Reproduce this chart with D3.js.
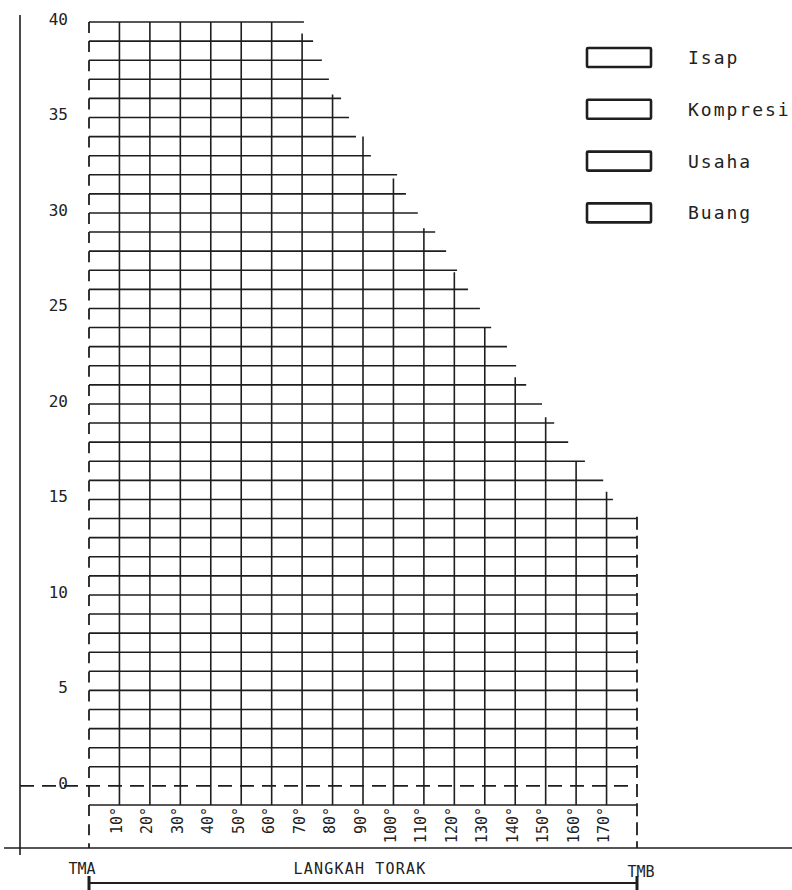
<!DOCTYPE html>
<html>
<head>
<meta charset="utf-8">
<script src="https://cdn.jsdelivr.net/npm/d3@7"></script>
<style>
  body { margin: 0; background: #fff; }
  text { font-family: "DejaVu Sans Mono", monospace; fill: #222; }
</style>
</head>
<body>
<div id="container"></div>
<script>
// pressure values on the left, crank angle along the bottom
var tickValues = [0, 5, 10, 15, 20, 25, 30, 35, 40];
var rowLevels = [40, 39, 38, 37, 36, 35, 34, 33, 32, 31, 30, 29, 28, 27, 26, 25, 24, 23, 22, 21,
                 20, 19, 18, 17, 16, 15, 14, 13, 12, 11, 10, 9, 8, 7, 6, 5, 4, 3, 2, 1, -1];
// where each row stops on the right (degrees), top rows are cut short
var rowEnds = [70.6, 73.6, 76.5, 78.8, 82.8, 85.4, 87.7, 92.6, 101.2, 104.1, 108, 113.7, 117.3, 120.9,
               124.5, 128.4, 132.1, 137.3, 140.3, 143.6, 148.8, 152.8, 157.4, 162.9, 168.9, 172.1,
               180, 180, 180, 180, 180, 180, 180, 180, 180, 180, 180, 180, 180, 180, 180];
var degrees = [10, 20, 30, 40, 50, 60, 70, 80, 90, 100, 110, 120, 130, 140, 150, 160, 170];
var colTops = [40, 40, 40, 40, 40, 40, 39.4, 36.2, 34.0, 31.8, 29.2, 26.9, 24.0, 21.4, 19.3, 17.0, 15.4];
var tmbTop = 14.1;
var legendNames = ['Isap', 'Kompresi', 'Usaha', 'Buang'];

var ink = '#1e1e1e';

var svg = d3.select('#container')
    .append('svg')
    .attr('width', 792)
    .attr('height', 890);

var x = d3.scaleLinear().domain([0, 180]).range([89, 637]);
var y = d3.scaleLinear().domain([-1, 40]).range([805, 22]);

// outer frame lines
svg.append('line')
    .attr('x1', 20).attr('x2', 20)
    .attr('y1', 15).attr('y2', 855)
    .attr('stroke', ink).attr('stroke-width', 1.6);

svg.append('line')
    .attr('x1', 4).attr('x2', 792)
    .attr('y1', 848).attr('y2', 848)
    .attr('stroke', ink).attr('stroke-width', 1.6);

// horizontal rows
svg.selectAll('.row')
    .data(rowLevels)
    .enter().append('line')
    .attr('class', 'row')
    .attr('x1', x(0))
    .attr('x2', function (d, i) { return x(rowEnds[i]); })
    .attr('y1', function (d) { return y(d); })
    .attr('y2', function (d) { return y(d); })
    .attr('stroke', ink)
    .attr('stroke-width', 1.6);

// dashed zero line
svg.append('line')
    .attr('x1', 20).attr('x2', x(180))
    .attr('y1', y(0)).attr('y2', y(0))
    .attr('stroke', ink)
    .attr('stroke-width', 1.6)
    .style('stroke-dasharray', '14,8');

// vertical columns
svg.selectAll('.col')
    .data(degrees)
    .enter().append('line')
    .attr('class', 'col')
    .attr('x1', function (d) { return x(d); })
    .attr('x2', function (d) { return x(d); })
    .attr('y1', function (d, i) { return y(colTops[i]); })
    .attr('y2', y(-1))
    .attr('stroke', ink)
    .attr('stroke-width', 1.6);

// TMA and TMB dashed verticals
svg.append('line')
    .attr('x1', x(0)).attr('x2', x(0))
    .attr('y1', y(40)).attr('y2', 848)
    .attr('stroke', ink)
    .attr('stroke-width', 1.8)
    .style('stroke-dasharray', '11,8.1');

svg.append('line')
    .attr('x1', x(180)).attr('x2', x(180))
    .attr('y1', y(tmbTop)).attr('y2', 848)
    .attr('stroke', ink)
    .attr('stroke-width', 1.8)
    .style('stroke-dasharray', '13,6.1');

// left tick labels
var yAxis = d3.axisLeft(y).tickValues(tickValues).tickSize(0).tickPadding(0);
var gy = svg.append('g')
    .attr('transform', 'translate(68,-3)')
    .call(yAxis);
gy.select('.domain').remove();
gy.selectAll('text')
    .style('font-family', '"DejaVu Sans Mono", monospace')
    .style('font-size', '16px')
    .attr('fill', '#333');

// degree labels, rotated
var xAxis = d3.axisBottom(x).tickValues(degrees).tickSize(0)
    .tickFormat(function (d) { return d + '°'; });
var gx = svg.append('g')
    .attr('transform', 'translate(-3,0)')
    .call(xAxis);
gx.select('.domain').remove();
gx.selectAll('text')
    .style('font-family', '"DejaVu Sans Mono", monospace')
    .style('font-size', '15px')
    .attr('fill', '#333')
    .attr('text-anchor', 'end')
    .attr('dy', null)
    .attr('y', null)
    .attr('dominant-baseline', 'central')
    .attr('transform', 'translate(0,807) rotate(-90)');

// bottom: stroke length arrow
svg.append('line')
    .attr('x1', x(0)).attr('x2', x(180))
    .attr('y1', 883).attr('y2', 883)
    .attr('stroke', ink).attr('stroke-width', 2.2);
svg.selectAll('.endbar')
    .data([0, 180])
    .enter().append('line')
    .attr('class', 'endbar')
    .attr('x1', function (d) { return x(d); })
    .attr('x2', function (d) { return x(d); })
    .attr('y1', 876).attr('y2', 890)
    .attr('stroke', ink).attr('stroke-width', 3);

svg.append('text')
    .attr('x', 82).attr('y', 874)
    .attr('text-anchor', 'middle')
    .style('font-size', '15px')
    .text('TMA');
svg.append('text')
    .attr('x', 641).attr('y', 877)
    .attr('text-anchor', 'middle')
    .style('font-size', '15px')
    .text('TMB');
svg.append('text')
    .attr('x', 360).attr('y', 874)
    .attr('text-anchor', 'middle')
    .style('font-size', '15px')
    .style('letter-spacing', '1.2px')
    .text('LANGKAH TORAK');

// legend
var legend = svg.selectAll('.legend')
    .data(legendNames)
    .enter().append('g')
    .attr('class', 'legend')
    .attr('transform', function (d, i) { return 'translate(0,' + (57.5 + i * 51.8) + ')'; });

legend.append('rect')
    .attr('x', 587)
    .attr('y', -9.5)
    .attr('width', 64)
    .attr('height', 19)
    .attr('rx', 1)
    .attr('fill', 'none')
    .attr('stroke', ink)
    .attr('stroke-width', 2.6);

legend.append('text')
    .attr('x', 688)
    .attr('y', 0)
    .attr('dominant-baseline', 'central')
    .style('font-size', '18px')
    .style('letter-spacing', '2px')
    .text(function (d) { return d; });
</script>
</body>
</html>
